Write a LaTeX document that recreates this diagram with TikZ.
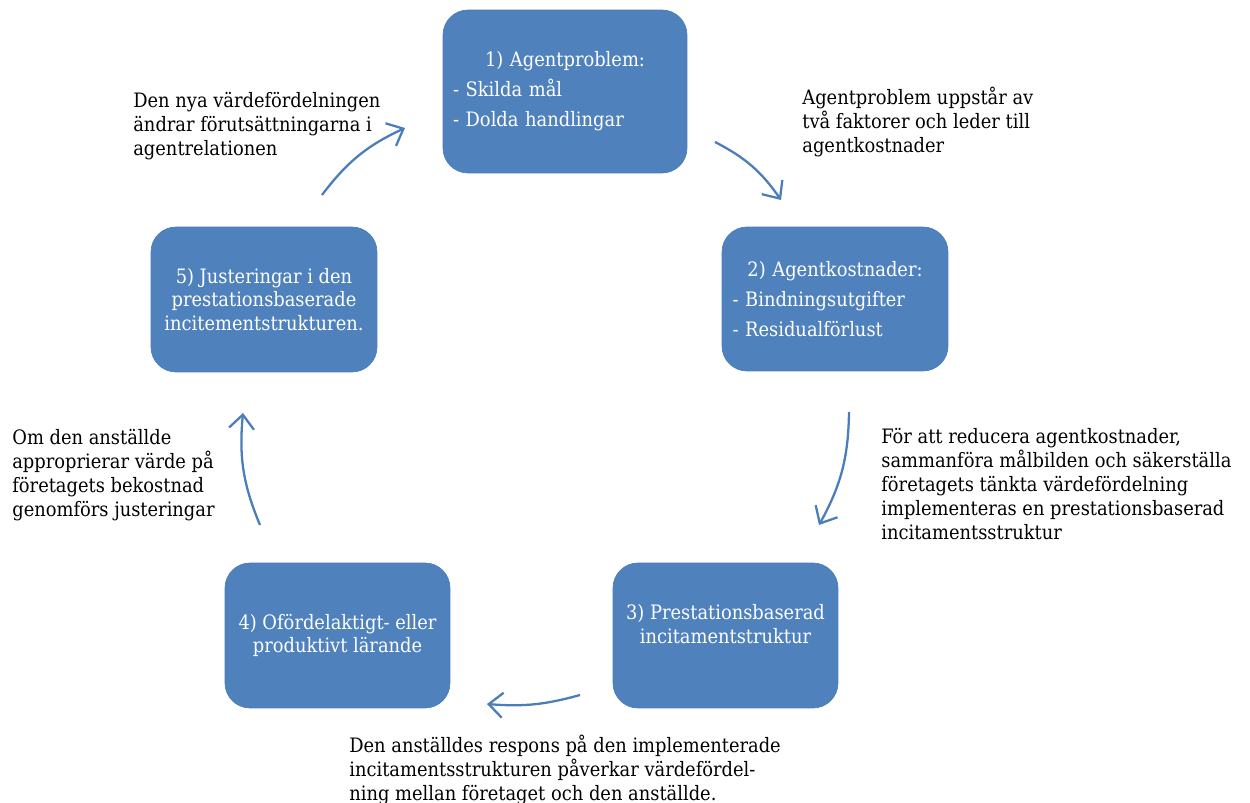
\documentclass[tikz,border=0pt]{standalone}
\usepackage{fontspec}
\setmainfont{DejaVu Serif Condensed}
\usepackage{xcolor}
\usepackage{tikz}
\usetikzlibrary{positioning, arrows.meta}
\definecolor{boxBlue}{RGB}{79, 129, 189}
\definecolor{boxEdge}{RGB}{74, 126, 187}
\definecolor{arrBlue}{RGB}{74, 126, 187}

\begin{document}
\begin{tikzpicture}[
    x=0.02cm, y=-0.02cm,
    font=\fontsize{11.3}{13.6}\selectfont,
    stagebox/.style={rectangle, rounded corners=0.5cm, draw=boxEdge, fill=boxBlue,
        text=white, inner sep=0pt, minimum width=4.5cm, minimum height=2.9cm, align=center},
    note/.style={anchor=north west, inner sep=0pt, align=left},
    cyc/.style={-{Straight Barb[length=2.8mm, width=5mm]}, line width=1.3pt, arrBlue, bend left=14}
]
\useasboundingbox (0,0) rectangle (1250,803);

\node[stagebox, minimum width=4.88cm, minimum height=3.26cm, text width=4.48cm, align=left] (agent) at (565,91.5)
    {{\centering 1) Agentproblem:\par}\vspace{0.12cm}- Skilda mål\\[0.12cm]- Dolda handlingar};
\node[stagebox, minimum width=4.52cm, minimum height=2.88cm, text width=4.1cm, align=left] (cost) at (835,299)
    {{\centering 2) Agentkostnader:\par}\vspace{0.12cm}- Bindningsutgifter\\[0.12cm]- Residualförlust};
\node[stagebox] (incent) at (725.5,635.5) {3) Prestationsbaserad\\incitamentstruktur\\ \mbox{}};
\node[stagebox] (learn)  at (337.5,635.5) {4) Ofördelaktigt- eller\\produktivt lärande};
\node[stagebox, minimum width=4.52cm] (adjust) at (264,299.5)
    {5) Justeringar i den\\prestationsbaserade\\incitementstrukturen.};

\node[note] (n12) at (802,87)  {Agentproblem uppstår av\\två faktorer och leder till\\agentkostnader};
\node[note] (n23) at (881,428) {För att reducera agentkostnader,\\sammanföra målbilden och säkerställa\\företagets tänkta värdefördelning\\implementeras en prestationsbaserad\\incitamentsstruktur};
\node[note] (n34) at (349,735) {Den anställdes respons på den implementerade\\incitamentsstrukturen påverkar värdefördel-\\ning mellan företaget och den anställde.};
\node[note] (n45) at (12,429)  {Om den anställde\\approprierar värde på\\företagets bekostnad\\genomförs justeringar};
\node[note] (n51) at (133,92)  {Den nya värdefördelningen\\ändrar förutsättningarna i\\agentrelationen};

% arrow ends
\coordinate (a12) at (715,142);  \coordinate (b12) at (781,200);
\coordinate (a23) at (849,412);  \coordinate (b23) at (819,525);
\coordinate (a34) at (580,695);  \coordinate (b34) at (487,704);
\coordinate (a45) at (260,525);  \coordinate (b45) at (243,413);
\coordinate (a51) at (322,195);  \coordinate (b51) at (405,128);

\draw[cyc] (a12) to (b12);
\draw[cyc] (a23) to (b23);
\draw[cyc, bend left=10] (a34) to (b34);
\draw[cyc] (a45) to (b45);
\draw[cyc] (a51) to (b51);
\end{tikzpicture}
\end{document}
